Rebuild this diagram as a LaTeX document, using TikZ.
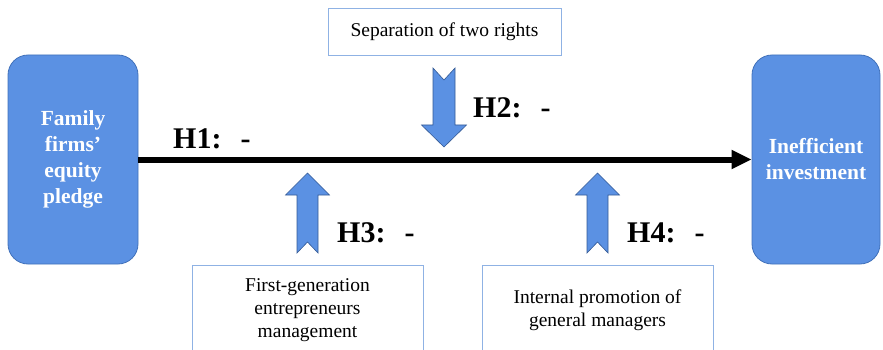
\documentclass[tikz,border=0pt]{standalone}
\usepackage{fontspec}
\setmainfont{Liberation Serif}
\usetikzlibrary{arrows.meta,positioning,calc}
\definecolor{ogblue}{RGB}{91,145,227}
\definecolor{ogedge}{RGB}{65,113,186}
\definecolor{oglight}{RGB}{143,178,228}
\tikzset{
  ogbox/.style={draw=ogedge, fill=ogblue, rounded corners=20pt, line width=0.8pt, text=white, align=center,
    font=\fontsize{21.5}{26}\selectfont\bfseries, minimum height=209pt},
  ogtext/.style={draw=oglight, line width=0.8pt, fill=white, align=center, inner sep=4pt,
    font=\fontsize{19.5}{23}\selectfont},
  oghyp/.style={anchor=base west, inner sep=0pt, font=\fontsize{30}{30}\selectfont\bfseries},
  ogline/.style={-{Triangle[length=20pt,width=18pt]}, line width=6pt},
  ogblock/.style={draw=ogedge!80!black, fill=ogblue, line width=0.6pt, line join=miter}
}
\begin{document}
\begin{tikzpicture}[x=1pt,y=-1pt]
  \useasboundingbox (0,0) rectangle (883,350);
  \clip (0,0) rectangle (883,350);

  \node[ogbox, minimum width=130pt] (pledge) at (73,159.5) {Family\\firms'\\equity\\pledge};
  \node[ogbox, minimum width=128pt] (ineff) at (816,159.5) {Inefficient\\investment};

  \node[ogtext, minimum width=233pt, minimum height=47pt] (sep) at (444.5,31.5) {Separation of two rights};
  \node[ogtext, minimum width=231pt, minimum height=90pt] (first) at (307.5,310) {First-generation\\entrepreneurs\\management};
  \node[ogtext, minimum width=231pt, minimum height=90pt] (prom) at (597.5,310) {Internal promotion of\\general managers};

  \draw[ogline] (pledge.east) -- (ineff.west);

  % block arrows
  \draw[ogblock] (433,68) -- (444,80) -- (455,68) -- (455,125) -- (466.5,125) -- (444,147)
    -- (421.5,125) -- (433,125) -- cycle;
  \foreach \cx in {307.5,597.5} {
    \draw[ogblock] (\cx,173) -- (\cx+22,195) -- (\cx+10.5,195) -- (\cx+10.5,253) -- (\cx,242)
      -- (\cx-10.5,253) -- (\cx-10.5,195) -- (\cx-22,195) -- cycle;
  }

  \node[oghyp] (h1) at (173,149) {H1:\hspace{19pt}-};
  \node[oghyp] (h2) at (473,118) {H2:\hspace{19pt}-};
  \node[oghyp] (h3) at (337,242) {H3:\hspace{19pt}-};
  \node[oghyp] (h4) at (627,242) {H4:\hspace{19pt}-};
\end{tikzpicture}
\end{document}
